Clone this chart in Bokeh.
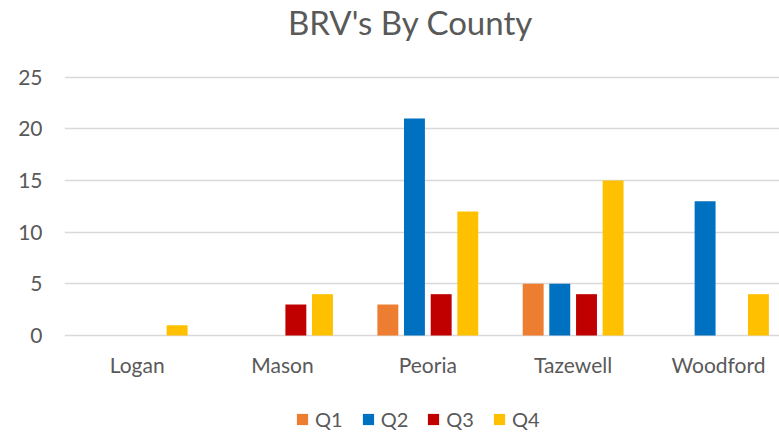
from bokeh.plotting import figure
from bokeh.models import Range1d, FixedTicker, Legend, LegendItem, ColumnDataSource, Label
from bokeh.embed import file_html
from bokeh.resources import INLINE

title_text = "BRV's By County"
counties = ["Logan", "Mason", "Peoria", "Tazewell", "Woodford"]
quarters = ["Q1", "Q2", "Q3", "Q4"]
q1 = [0, 0, 3, 5, 0]
q2 = [0, 0, 21, 5, 13]
q3 = [0, 3, 4, 4, 0]
q4 = [1, 4, 12, 15, 4]
y_ticks = [0, 5, 10, 15, 20, 25]
colors = ["#ED7D31", "#0070C0", "#C00000", "#FFC000"]

FONT = "Lato"
TXT = "#595959"

p = figure(frame_width=715, frame_height=434, output_backend="svg", toolbar_location=None,
           x_range=Range1d(-0.5, 4.42), y_range=Range1d(-9.58, 32.42),
           min_border_left=64, min_border_right=0, min_border_top=0,
           min_border_bottom=0, title=None)

offsets = [-0.275, -0.092, 0.092, 0.275]
bar_w = 0.144
series = [q1, q2, q3, q4]
renderers = []
for q, vals, off, c in zip(quarters, series, offsets, colors):
    src = ColumnDataSource(dict(x=[i + off for i in range(len(counties))], top=vals))
    r = p.vbar(x="x", top="top", bottom=0, width=bar_w, source=src,
               fill_color=c, line_color=None)
    renderers.append((q, r))

p.xaxis.ticker = FixedTicker(ticks=list(range(len(counties))))
p.xaxis.major_label_overrides = {i: n for i, n in enumerate(counties)}
p.xaxis.fixed_location = 0
p.yaxis.ticker = FixedTicker(ticks=y_ticks)
for ax in (p.xaxis, p.yaxis):
    ax.axis_line_color = None
    ax.major_tick_line_color = None
    ax.minor_tick_line_color = None
    ax.major_tick_out = 0
    ax.major_tick_in = 0
    ax.major_label_text_font = FONT
    ax.major_label_text_font_size = "21px"
    ax.major_label_text_color = TXT
p.xaxis.major_label_standoff = 16
p.yaxis.major_label_standoff = 22

p.xgrid.visible = False
p.ygrid.ticker = FixedTicker(ticks=y_ticks)
p.ygrid.grid_line_color = "#D9D9D9"
p.ygrid.grid_line_width = 1.5
p.outline_line_color = None

title = Label(x=346, y=413, x_units="screen", y_units="screen", text=title_text,
              text_align="center", text_baseline="alphabetic",
              text_font=FONT, text_font_size="33px", text_color=TXT)
p.add_layout(title)

legend = Legend(items=[LegendItem(label=q, renderers=[r]) for q, r in renderers],
                orientation="horizontal", location=(231, 3),
                border_line_color=None, background_fill_alpha=0,
                glyph_width=14, glyph_height=14, label_standoff=6, spacing=18,
                label_text_font=FONT, label_text_font_size="20px",
                label_text_color=TXT, padding=0, margin=0)
p.add_layout(legend)

open("out.html", "w").write(file_html(p, INLINE))
